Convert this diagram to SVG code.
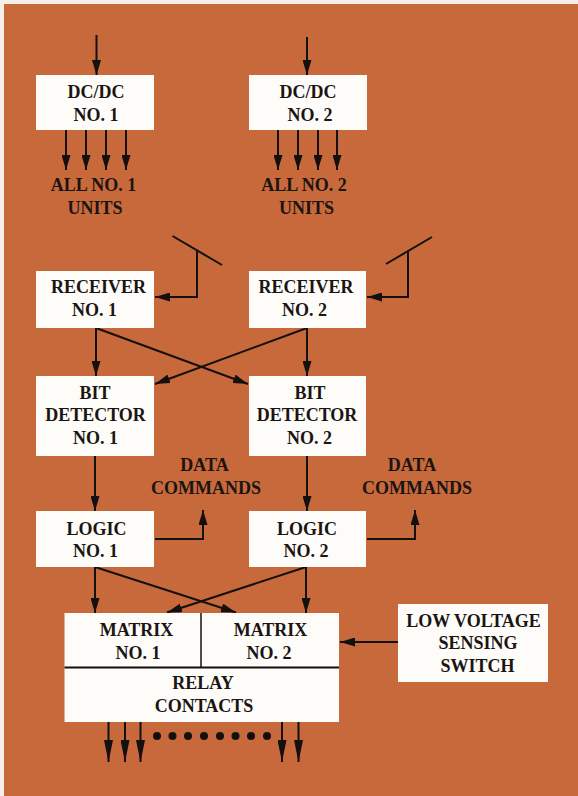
<svg xmlns="http://www.w3.org/2000/svg" width="578" height="796" viewBox="0 0 578 796">
<defs>
<marker id="ah" viewBox="0 0 15 9" refX="15" refY="4.5" markerWidth="15" markerHeight="9" markerUnits="userSpaceOnUse" orient="auto"><path d="M0,0 L15,4.5 L0,9 z" fill="#141010"/></marker>
<marker id="ahl" viewBox="0 0 22 9" refX="22" refY="4.5" markerWidth="22" markerHeight="9" markerUnits="userSpaceOnUse" orient="auto"><path d="M0,0 L22,4.5 L0,9 z" fill="#141010"/></marker>
<style>
.bx{fill:#fdfcf8}
.t{font-family:"Liberation Serif","Times New Roman",serif;font-weight:bold;font-size:18px;fill:#1a1512;text-anchor:middle}
.c{fill:none;stroke:#141010;stroke-width:2}
.a{marker-end:url(#ah)}
.al{marker-end:url(#ahl)}
</style>
</defs>
<rect x="0" y="0" width="578" height="796" fill="#f4efe8"/>
<rect x="4" y="4" width="574" height="792" fill="#c7693b"/>

<g id="connectors">
<path class="c a" d="M96.5,35 V75"/>
<path class="c a" d="M307,37 V75"/>
<path class="c a" d="M66,130 V170"/>
<path class="c a" d="M86,130 V170"/>
<path class="c a" d="M106,130 V170"/>
<path class="c a" d="M126,130 V170"/>
<path class="c a" d="M278,130 V170"/>
<path class="c a" d="M298,130 V170"/>
<path class="c a" d="M318,130 V170"/>
<path class="c a" d="M337,130 V170"/>
<path class="c" d="M172.5,236 L222,265"/>
<path class="c a" d="M197,250.5 V297 H155"/>
<path class="c" d="M432,237 L386,264"/>
<path class="c a" d="M408,250.5 V297 H367"/>
<path class="c a" d="M96,328 V376"/>
<path class="c a" d="M96,328 L248,384"/>
<path class="c a" d="M307,328 V376"/>
<path class="c a" d="M307,328 L155,384"/>
<path class="c a" d="M95,456 V511"/>
<path class="c a" d="M307,456 V511"/>
<path class="c a" d="M155,539 H203 V510"/>
<path class="c a" d="M367,539 H415 V510"/>
<path class="c a" d="M95,567 V613"/>
<path class="c a" d="M95,567 L236,612.5"/>
<path class="c a" d="M306,567 V613"/>
<path class="c a" d="M306,567 L167,612.5"/>
<path class="c a" d="M398,642 H340"/>
<path class="c al" d="M108.5,722 V762"/>
<path class="c al" d="M125,722 V762"/>
<path class="c al" d="M140.5,722 V762"/>
<path class="c al" d="M282,722 V762"/>
<path class="c al" d="M298.5,722 V762"/>
<g fill="#141010">
<circle cx="157" cy="736" r="4"/><circle cx="172.5" cy="736" r="4"/><circle cx="188" cy="736" r="4"/><circle cx="204" cy="736" r="4"/><circle cx="220" cy="736" r="4"/><circle cx="235.5" cy="736" r="4"/><circle cx="251" cy="736" r="4"/><circle cx="267" cy="736" r="4"/>
</g>
</g>

<g id="dcdc1"><rect class="bx" x="36" y="75" width="118" height="55"/><text class="t" x="96" y="98">DC/DC</text><text class="t" x="96" y="121">NO. 1</text></g>
<g id="dcdc2"><rect class="bx" x="249" y="75" width="118" height="55"/><text class="t" x="308" y="98">DC/DC</text><text class="t" x="310" y="121">NO. 2</text></g>
<g id="units1"><text class="t" x="93.5" y="191">ALL NO. 1</text><text class="t" x="95" y="214">UNITS</text></g>
<g id="units2"><text class="t" x="304" y="191">ALL NO. 2</text><text class="t" x="306.5" y="214">UNITS</text></g>
<g id="receiver1"><rect class="bx" x="36" y="271" width="118" height="57"/><text class="t" x="98.5" y="293">RECEIVER</text><text class="t" x="94.5" y="316">NO. 1</text></g>
<g id="receiver2"><rect class="bx" x="249" y="271" width="117" height="57"/><text class="t" x="306" y="293">RECEIVER</text><text class="t" x="304.5" y="316">NO. 2</text></g>
<g id="bitdet1"><rect class="bx" x="36" y="376" width="118" height="80"/><text class="t" x="95" y="399">BIT</text><text class="t" x="95.5" y="421">DETECTOR</text><text class="t" x="95.5" y="444">NO. 1</text></g>
<g id="bitdet2"><rect class="bx" x="249" y="376" width="117" height="80"/><text class="t" x="310" y="399">BIT</text><text class="t" x="307" y="421">DETECTOR</text><text class="t" x="309.5" y="444">NO. 2</text></g>
<g id="data1"><text class="t" x="204.5" y="471">DATA</text><text class="t" x="206" y="494">COMMANDS</text></g>
<g id="data2"><text class="t" x="412" y="471">DATA</text><text class="t" x="417" y="494">COMMANDS</text></g>
<g id="logic1"><rect class="bx" x="36" y="511" width="118" height="56"/><text class="t" x="96.5" y="535">LOGIC</text><text class="t" x="95.5" y="557">NO. 1</text></g>
<g id="logic2"><rect class="bx" x="249" y="511" width="117" height="56"/><text class="t" x="307" y="535">LOGIC</text><text class="t" x="306" y="557">NO. 2</text></g>
<g id="matrix-relay">
<rect class="bx" x="64.5" y="613" width="274.5" height="109"/>
<path d="M201,613 V667" stroke="#141010" stroke-width="1.5"/>
<path d="M64.5,667.5 H339" stroke="#141010" stroke-width="2.2"/>
<text class="t" x="136.5" y="636">MATRIX</text><text class="t" x="138" y="659">NO. 1</text>
<text class="t" x="270.5" y="636">MATRIX</text><text class="t" x="269" y="659">NO. 2</text>
<text class="t" x="203" y="689">RELAY</text><text class="t" x="204" y="712">CONTACTS</text>
</g>
<g id="lowvoltage"><rect class="bx" x="398" y="604" width="150" height="78"/><text class="t" x="473.5" y="627">LOW VOLTAGE</text><text class="t" x="478" y="649">SENSING</text><text class="t" x="477.5" y="672">SWITCH</text></g>
</svg>
